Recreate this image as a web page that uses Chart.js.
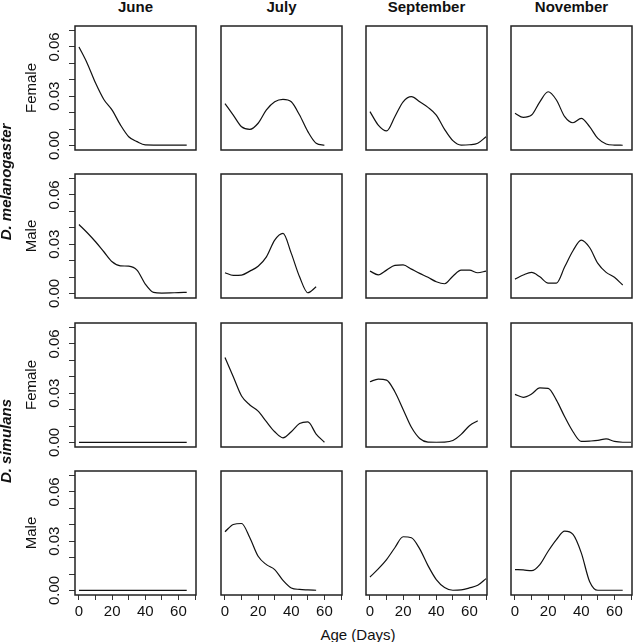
<!DOCTYPE html>
<html>
<head>
<meta charset="utf-8">
<script src="https://cdn.jsdelivr.net/npm/chart.js@4.4.1/dist/chart.umd.min.js"></script>
<style>
  html, body { margin: 0; padding: 0; background: #fff; }
  #fig { position: relative; width: 633px; height: 642px; overflow: hidden;
         font-family: "Liberation Sans", Arial, sans-serif; color: #111; }
  #fig canvas { position: absolute; }
  .lab { position: absolute; font-size: 15px; line-height: 18px; white-space: nowrap; }
  .col { font-weight: bold; transform: translateX(-50%); }
  .sp { font-weight: bold; font-style: italic; transform: translate(-50%, -50%) rotate(-90deg); }
  .xt { transform: translateX(-50%); }
</style>
</head>
<body>
<div id="fig"></div>
<script>
// ages (days) at which the smoothed densities were read
const AGES = [0, 5, 10, 15, 20, 25, 30, 35, 40, 45, 50, 55, 60, 65, 70];

const MONTHS = ['June', 'July', 'September', 'November'];
const SPECIES = ['D. melanogaster', 'D. simulans'];
const SEXES = ['Female', 'Male'];

const X_TICKS = [0, 10, 20, 30, 40, 50, 60, 70];
const X_TICK_LABELS = ['0', '', '20', '', '40', '', '60', ''];
const Y_TICKS = [0, 0.01, 0.02, 0.03, 0.04, 0.05, 0.06, 0.07];
const Y_TICK_LABELS = ['0.00', '', '', '0.03', '', '', '0.06', ''];

// D. melanogaster
const MEL_F_JUNE = [0.060, 0.050, 0.038, 0.028, 0.0215, 0.0125, 0.0053, 0.0023, 0.0003, 0.0002, 0.0002, 0.0002, 0.0002, 0.0002];
const MEL_F_JULY = [0.0255, 0.0185, 0.0114, 0.0098, 0.0135, 0.0216, 0.0266, 0.0281, 0.0266, 0.0185, 0.0084, 0.0013, 0.0001];
const MEL_F_SEPT = [0.0206, 0.0124, 0.0088, 0.0175, 0.0266, 0.0297, 0.0266, 0.0232, 0.0185, 0.0098, 0.0029, 0.0002, 0.0004, 0.0013, 0.0053];
const MEL_F_NOV  = [0.0196, 0.0171, 0.0185, 0.0266, 0.0327, 0.0277, 0.0175, 0.0138, 0.0165, 0.0114, 0.0043, 0.0009, 0.0002, 0.0001];
const MEL_M_JUNE = [0.042, 0.037, 0.0315, 0.0254, 0.0193, 0.0168, 0.0166, 0.0142, 0.0057, 0.0006, 0.0002, 0.0003, 0.0005, 0.0006];
const MEL_M_JULY = [0.0126, 0.011, 0.0112, 0.0136, 0.0166, 0.0223, 0.0325, 0.0366, 0.0244, 0.0101, 0.0004, 0.004];
const MEL_M_SEPT = [0.0136, 0.0113, 0.0142, 0.0171, 0.0174, 0.0148, 0.0122, 0.0098, 0.0071, 0.0059, 0.0105, 0.0142, 0.0142, 0.0126, 0.0136];
const MEL_M_NOV  = [0.0087, 0.0112, 0.0128, 0.0101, 0.0063, 0.0063, 0.0162, 0.026, 0.0325, 0.028, 0.0183, 0.0128, 0.0098, 0.0051];

// D. simulans
const SIM_F_JUNE = [0, 0, 0, 0, 0, 0, 0, 0, 0, 0, 0, 0, 0, 0];
const SIM_F_JULY = [0.0517, 0.040, 0.0283, 0.0228, 0.0191, 0.0126, 0.0065, 0.0028, 0.0065, 0.0115, 0.0125, 0.0051, 0.0001];
const SIM_F_SEPT = [0.037, 0.0386, 0.038, 0.0309, 0.0201, 0.0092, 0.0024, 0.0002, 0.0001, 0.0002, 0.0012, 0.0049, 0.0102, 0.0132];
const SIM_F_NOV  = [0.0293, 0.0275, 0.0295, 0.0332, 0.033, 0.0258, 0.0156, 0.0065, 0.0006, 0.0008, 0.0012, 0.0022, 0.0006, 0.0001, 0.0001];
const SIM_M_JUNE = [0, 0, 0, 0, 0, 0, 0, 0, 0, 0, 0, 0, 0, 0];
const SIM_M_JULY = [0.0358, 0.0402, 0.0408, 0.0321, 0.0208, 0.0157, 0.0127, 0.0061, 0.0015, 0.0006, 0.0003, 0.0001];
const SIM_M_SEPT = [0.0082, 0.0131, 0.0188, 0.026, 0.0327, 0.0321, 0.0253, 0.0151, 0.0066, 0.0018, 0.0001, 0.0003, 0.0015, 0.0031, 0.0072];
const SIM_M_NOV  = [0.0127, 0.0125, 0.012, 0.0157, 0.0239, 0.031, 0.0361, 0.0341, 0.0229, 0.0055, 0.0001, 0.0001, 0.0001, 0.0001];

const PANELS = [
  [MEL_F_JUNE, MEL_F_JULY, MEL_F_SEPT, MEL_F_NOV],
  [MEL_M_JUNE, MEL_M_JULY, MEL_M_SEPT, MEL_M_NOV],
  [SIM_F_JUNE, SIM_F_JULY, SIM_F_SEPT, SIM_F_NOV],
  [SIM_M_JUNE, SIM_M_JULY, SIM_M_SEPT, SIM_M_NOV]
];

// layout of the boxes on the page
const COL_LEFT = [75, 221, 366, 511];
const ROW_TOP = [26, 174, 323, 471];
const BOX_W = 121, BOX_H = 124;
const Y_AXIS_W = 75, X_AXIS_H = 30, PAD = 3, LABEL_ROOM = 14;

Chart.defaults.font.family = "'Liberation Sans', Arial, sans-serif";
Chart.defaults.font.size = 15;
Chart.defaults.color = '#111';

const fig = document.getElementById('fig');

const boxPlugin = {
  id: 'box',
  afterDraw(chart) {
    const { ctx, chartArea: a } = chart;
    ctx.save();
    ctx.strokeStyle = '#222';
    ctx.lineWidth = 1.5;
    ctx.strokeRect(a.left, a.top, a.right - a.left, a.bottom - a.top);
    ctx.restore();
  }
};

function addLabel(text, cls, left, top) {
  const d = document.createElement('div');
  d.className = 'lab ' + cls;
  d.textContent = text;
  d.style.left = left + 'px';
  d.style.top = top + 'px';
  fig.appendChild(d);
}

function makePanel(r, c) {
  const hasY = c === 0, hasX = r === 3;
  // room under the box: x axis in the last row, rotated "0.00" label in the first column
  const bottomPad = hasX ? 0 : (hasY ? LABEL_ROOM : PAD);
  const left = COL_LEFT[c] - (hasY ? Y_AXIS_W : PAD);
  const top = ROW_TOP[r] - PAD;
  const w = (hasY ? Y_AXIS_W : PAD) + BOX_W + PAD;
  const h = PAD + BOX_H + (hasX ? X_AXIS_H : bottomPad);

  const cv = document.createElement('canvas');
  cv.width = w; cv.height = h;
  cv.style.left = left + 'px'; cv.style.top = top + 'px';
  cv.style.width = w + 'px'; cv.style.height = h + 'px';
  fig.appendChild(cv);

  const vals = PANELS[r][c];
  const pts = vals.map((v, i) => ({ x: AGES[i], y: v }));

  new Chart(cv, {
    type: 'line',
    data: {
      datasets: [{
        data: pts,
        borderColor: '#111',
        borderWidth: 1.2,
        pointRadius: 0,
        fill: false,
        cubicInterpolationMode: 'monotone'
      }]
    },
    options: {
      responsive: false,
      animation: false,
      events: [],
      layout: { padding: { left: hasY ? 0 : PAD, right: PAD, top: PAD, bottom: bottomPad } },
      plugins: { legend: { display: false }, tooltip: { enabled: false } },
      scales: {
        x: {
          type: 'linear', min: -2.4, max: 70.6, display: hasX,
          afterBuildTicks: s => { s.ticks = X_TICKS.map(v => ({ value: v })); },
          afterFit: s => {
            if (!hasX) return;
            s.height = X_AXIS_H; s.paddingLeft = 0; s.paddingRight = 0;
          },
          ticks: { callback: (v, i) => X_TICK_LABELS[i], autoSkip: false, maxRotation: 0, padding: 3 },
          grid: { drawOnChartArea: false, drawTicks: true, tickLength: 5, color: '#333' },
          border: { display: false }
        },
        y: {
          type: 'linear', min: -0.0028, max: 0.0728, display: hasY,
          afterBuildTicks: s => { s.ticks = Y_TICKS.map(v => ({ value: v })); },
          afterFit: s => {
            if (!hasY) return;
            s.width = Y_AXIS_W; s.paddingTop = 0; s.paddingBottom = 0;
          },
          ticks: { callback: (v, i) => Y_TICK_LABELS[i], autoSkip: false, minRotation: 90, maxRotation: 90,
                   crossAlign: 'center', padding: 0 },
          grid: { drawOnChartArea: false, drawTicks: true, tickLength: 6, color: '#333' },
          border: { display: false },
          title: { display: true, text: SEXES[r % 2], padding: { top: 23, bottom: 0 } }
        }
      }
    },
    plugins: [boxPlugin]
  });
}

for (let r = 0; r < 4; r++) {
  for (let c = 0; c < 4; c++) makePanel(r, c);
}

MONTHS.forEach((m, c) => addLabel(m, 'col', COL_LEFT[c] + BOX_W / 2, -2));
addLabel(SPECIES[0], 'sp', 6, 182);
addLabel(SPECIES[1], 'sp', 6, 441);
addLabel('Age (Days)', 'xt', 358, 626);
</script>
</body>
</html>
